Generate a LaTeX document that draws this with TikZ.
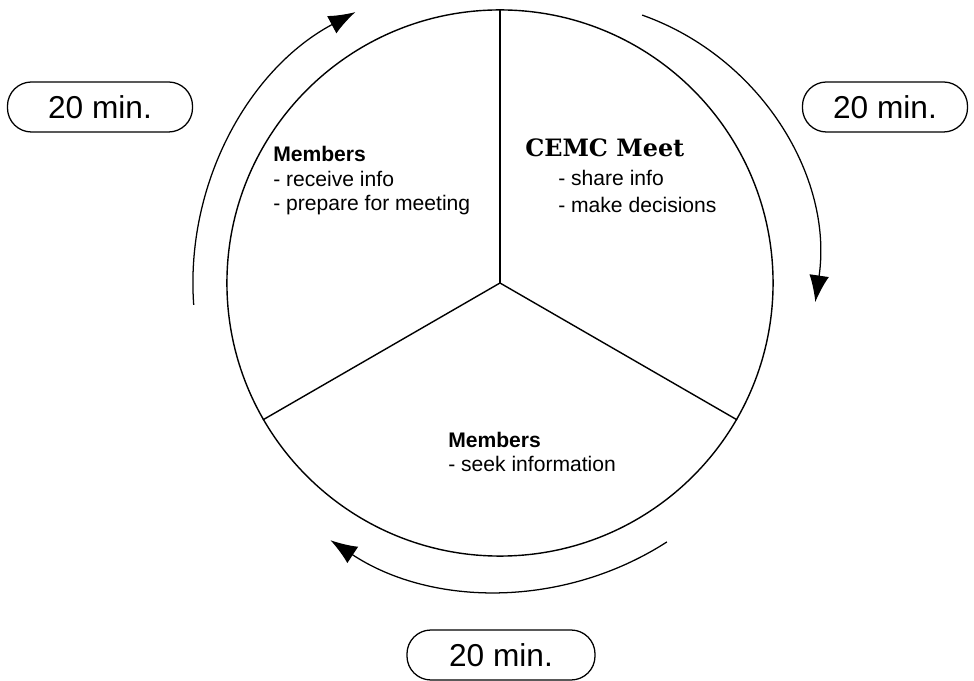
\documentclass[tikz,border=0pt]{standalone}
\usepackage{fontspec}
\setsansfont{Liberation Sans}
\newfontfamily\titlefont{DejaVu Serif}
\usetikzlibrary{arrows.meta}
\tikzset{
  timepill/.style={draw, line width=0.9pt, rounded corners=0.6cm, minimum height=1.25cm, inner sep=0pt,
    font=\sffamily\fontsize{22.5}{27}\selectfont},
  cyclearrow/.style={line width=0.9pt, -{Latex[length=19pt,width=14pt]}},
  notetext/.style={inner sep=0pt, anchor=north west, align=left,
    font=\sffamily\fontsize{15}{17.4}\selectfont},
}

\begin{document}
\begin{tikzpicture}[x=0.025cm, y=0.025cm]
			%%%%% START %%%%%
			\useasboundingbox (-500, 283) rectangle (474, -398);
			
			\node[draw, circle, line width=1pt, minimum size=13.65cm, inner sep=0pt] (wheel) at (0, 0) {};
			\draw[line width=1pt] (wheel.center) -- (wheel.90);
			\draw[line width=1pt] (wheel.center) -- (wheel.210);
			\draw[line width=1pt] (wheel.center) -- (wheel.330);
			
			\node[timepill, minimum width=4.625cm] (pillleft) at (-400, 176) {20 min.};
			\node[timepill, minimum width=4.125cm] (pillright) at (385, 176) {20 min.};
			\node[timepill, minimum width=4.7cm] (pillbottom) at (1, -372) {20 min.};
			
			\coordinate (rightpivot) at (54, 19);
			\draw[cyclearrow] (wheel.center) ++(184.1:7.675cm) arc[start angle=184.1, end angle=118.1, radius=7.675cm];
			\draw[cyclearrow] (rightpivot) ++(70.5:6.6cm) arc[start angle=70.5, end angle=-8.3, radius=6.6cm];
			\draw[cyclearrow] (wheel.center) ++(-57.2:7.7cm) arc[start angle=-57.2, end angle=-123.4, radius=7.7cm];
			
			\node[notetext] (prepare) at (-227, 137) {\textbf{Members}\\- receive info\\- prepare for meeting};
			\node[anchor=base west, inner sep=0pt, font=\titlefont\bfseries\fontsize{17}{20}\selectfont] (meet) at (25, 126) {CEMC Meet};
			\node[notetext, font=\sffamily\fontsize{15}{19.5}\selectfont] (meettasks) at (58, 113.5) {- share info\\- make decisions};
			\node[notetext, font=\sffamily\fontsize{15}{17.7}\selectfont] (seek) at (-52, -148.5) {\textbf{Members}\\- seek information};
			
			%%%%% END %%%%%
\end{tikzpicture}
\end{document}
